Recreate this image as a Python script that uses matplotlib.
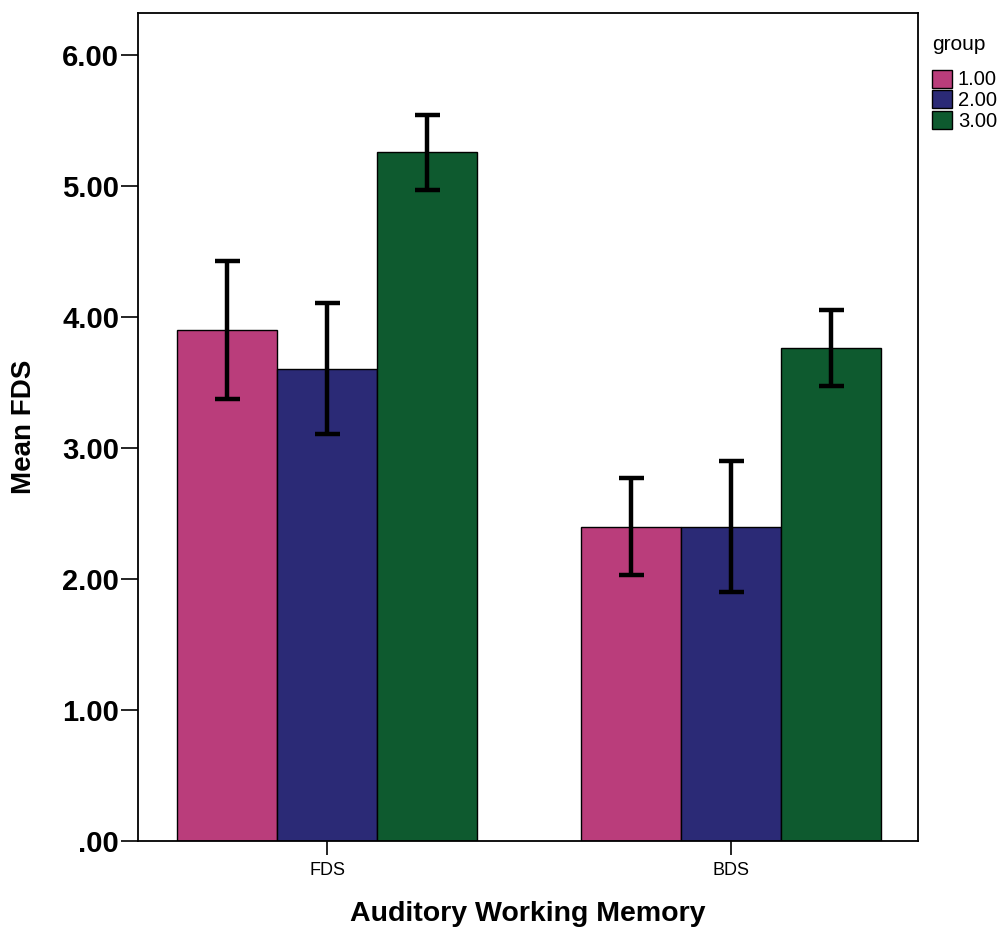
import numpy as np
import matplotlib.pyplot as plt

plt.rcParams['font.family'] = ['Liberation Sans', 'DejaVu Sans']

# Data
categories = ['FDS', 'BDS']
groups = ['1.00', '2.00', '3.00']
means = [
    [3.90, 2.40],   # group 1.00
    [3.60, 2.40],   # group 2.00
    [5.26, 3.76],   # group 3.00
]
err_low = [
    [3.37, 2.03],
    [3.11, 1.90],
    [4.97, 3.47],
]
err_high = [
    [4.43, 2.77],
    [4.11, 2.90],
    [5.54, 4.05],
]
bar_colors = ['#BA3D7B', '#2B2A76', '#0E5A2F']

fig = plt.figure(figsize=(10.05, 9.33), dpi=100)
ax = fig.add_axes([0.1373, 0.0986, 0.7761, 0.8875])

x = np.arange(len(categories))
width = 0.2475

for i, g in enumerate(groups):
    pos = x + (i - 1) * width
    m = np.array(means[i])
    lo = m - np.array(err_low[i])
    hi = np.array(err_high[i]) - m
    ax.bar(pos, m, width, color=bar_colors[i], edgecolor='black',
           linewidth=1.0, label=g, zorder=2)
    ax.errorbar(pos, m, yerr=[lo, hi], fmt='none', ecolor='black',
                elinewidth=3.2, capsize=9, capthick=3.2, zorder=3)

ax.set_xlim(-0.468, 1.463)
ax.set_ylim(0, 6.32)
ax.set_yticks([0, 1, 2, 3, 4, 5, 6])
ax.set_yticklabels(['.00', '1.00', '2.00', '3.00', '4.00', '5.00', '6.00'],
                   fontsize=21, fontweight='bold')
ax.set_xticks(x)
ax.set_xticklabels(categories, fontsize=13)
ax.tick_params(axis='y', direction='out', length=12, width=1.2, pad=1.5)
ax.tick_params(axis='x', direction='out', length=10, width=1.2, pad=5)

for s in ax.spines.values():
    s.set_linewidth(1.3)

ax.set_ylabel('Mean FDS', fontsize=20, fontweight='bold', labelpad=18)
ax.set_xlabel('Auditory Working Memory', fontsize=20.5, fontweight='bold', labelpad=16)

leg = fig.legend(title='group', loc='upper left', bbox_to_anchor=(0.917, 0.973),
                 frameon=False, fontsize=14.5, title_fontsize=15,
                 handlelength=1.0, handleheight=1.0, handletextpad=0.3,
                 labelspacing=0.05, borderpad=0.0)
leg._legend_box.align = 'left'
leg._legend_box.sep = 11

fig.savefig('out.png', dpi=100)
